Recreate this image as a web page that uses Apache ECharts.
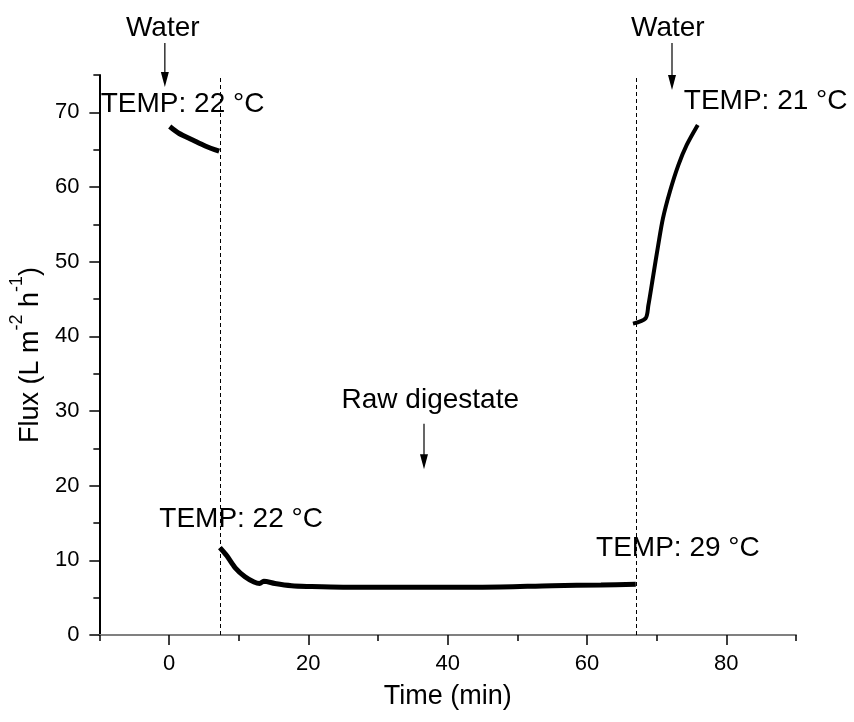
<!DOCTYPE html>
<html lang="en" style="height: 100%">
<head>
  <meta charset="utf-8">
</head>
<body style="height: 100%; margin: 0; background: #fff">
  <div id="container" style="width: 854px; height: 722px"></div>
  <script src="https://cdn.jsdelivr.net/npm/echarts@6/dist/echarts.min.js"></script>
  <script type="text/javascript">
    // flux readings, [time (min), flux]
    var waterStart = [[0.1, 68.1], [1.4, 67.2], [3.4, 66.3], [5.2, 65.5], [7.2, 64.8]];
    var rawDigestate = [
      [7.3, 11.7], [8.3, 10.6], [9.5, 9.0], [10.9, 7.8], [12.2, 7.1], [13.0, 6.9],
      [13.6, 7.2], [15.2, 6.9], [17.6, 6.6], [20, 6.5], [25, 6.4], [35, 6.4],
      [45, 6.4], [55, 6.6], [62, 6.7], [67, 6.8]
    ];
    var waterEnd = [
      [66.6, 41.7], [68.4, 42.4], [68.8, 44.1], [69.5, 48.1], [70.2, 52.1],
      [70.9, 55.8], [71.9, 59.4], [73.1, 62.9], [74.3, 65.6], [75.9, 68.3]
    ];
    var switchTimes = [7.3, 67];
    var xLabels = [0, 20, 40, 60, 80];
    var xMinor = [-10, 10, 30, 50, 70, 90];
    var yLabels = [0, 10, 20, 30, 40, 50, 60, 70];
    var yMinor = [5, 15, 25, 35, 45, 55, 65, 75];

    // annotations: text, [time, flux], align
    var notes = [
      ['Water', [-0.9, 81.2], 'center'],
      ['Water', [71.6, 81.2], 'center'],
      ['TEMP: 22 °C', [-9.8, 71.1], 'left'],
      ['TEMP: 21 °C', [73.9, 71.5], 'left'],
      ['Raw digestate', [37.5, 31.5], 'center'],
      ['TEMP: 22 °C', [-1.4, 15.5], 'left'],
      ['TEMP: 29 °C', [61.3, 11.6], 'left']
    ];
    // arrows: [time, flux from, flux to]
    var arrows = [[-0.6, 79.3, 73.4], [72.2, 79.3, 73.0], [36.6, 28.3, 22.2]];

    var font = '"Liberation Sans", Arial, sans-serif';
    var chart = echarts.init(document.getElementById('container'), null, { renderer: 'canvas' });

    var lineStyle = function (w) {
      return { type: 'line', smooth: 0.3, showSymbol: false, xAxisIndex: 0, yAxisIndex: 0,
        lineStyle: { color: '#000', width: w }, itemStyle: { color: '#000' } };
    };

    var s1 = lineStyle(5); s1.data = waterStart;
    var s2 = lineStyle(5); s2.data = rawDigestate;
    var s3 = lineStyle(4); s3.data = waterEnd;
    s2.markLine = {
      silent: true,
      symbol: 'none',
      label: { show: false },
      lineStyle: { color: '#000', type: [4, 3], width: 1 },
      data: switchTimes.map(function (t) { return { xAxis: t }; })
    };

    var option = {
      animation: false,
      backgroundColor: '#fff',
      grid: { left: 96, top: 75, width: 700, height: 560 },
      xAxis: [{
        type: 'value', min: -10, max: 90,
        name: 'Time (min)', nameLocation: 'middle', nameGap: 48,
        nameTextStyle: { color: '#000', fontSize: 27, fontFamily: font },
        axisLine: { onZero: false, lineStyle: { color: '#808080', width: 2 } },
        axisTick: { show: true, inside: false, length: 10, customValues: xLabels, lineStyle: { color: '#000', width: 1.5 } },
        axisLabel: { customValues: xLabels, margin: 18, color: '#000', fontSize: 22, fontFamily: font },
        splitLine: { show: false }
      }, {
        type: 'value', min: -10, max: 90, position: 'bottom',
        axisLine: { show: false, onZero: false },
        axisTick: { show: true, length: 6, customValues: xMinor, lineStyle: { color: '#000', width: 1.5 } },
        axisLabel: { show: false },
        splitLine: { show: false }
      }],
      yAxis: [{
        type: 'value', min: 0, max: 75,
        name: '{n|Flux (L m}{s|-2}{n| h}{s|-1}{n|)}', nameLocation: 'middle', nameGap: 54,
        nameTextStyle: {
          color: '#000', fontFamily: font,
          rich: {
            n: { fontSize: 27, fontFamily: font, color: '#000', verticalAlign: 'bottom', lineHeight: 36 },
            s: { fontSize: 18, fontFamily: font, color: '#000', verticalAlign: 'top', lineHeight: 36 }
          }
        },
        axisLine: { show: true, onZero: false, lineStyle: { color: '#000', width: 2 } },
        axisTick: { show: true, length: 10, customValues: yLabels, lineStyle: { color: '#000', width: 1.5 } },
        axisLabel: { customValues: yLabels, margin: 20, color: '#000', fontSize: 22, fontFamily: font },
        splitLine: { show: false }
      }, {
        type: 'value', min: 0, max: 75, position: 'left',
        axisLine: { show: false, onZero: false },
        axisTick: { show: true, length: 6, customValues: yMinor, lineStyle: { color: '#000', width: 1.5 } },
        axisLabel: { show: false },
        splitLine: { show: false }
      }],
      series: [s1, s2, s3]
    };

    chart.setOption(option);

    // text notes and arrows placed through the axes
    var toPx = function (p) { return chart.convertToPixel({ xAxisIndex: 0, yAxisIndex: 0 }, p); };
    var graphics = [];
    notes.forEach(function (n) {
      var p = toPx(n[1]);
      graphics.push({
        type: 'text', x: p[0], y: p[1], silent: true,
        style: { text: n[0], fill: '#000', font: '28px ' + font, align: n[2], verticalAlign: 'middle' }
      });
    });
    arrows.forEach(function (a) {
      var p1 = toPx([a[0], a[1]]);
      var p2 = toPx([a[0], a[2]]);
      graphics.push({
        type: 'line', silent: true,
        shape: { x1: p1[0], y1: p1[1], x2: p2[0], y2: p2[1] - 10 },
        style: { stroke: '#000', lineWidth: 1.2 }
      });
      graphics.push({
        type: 'polygon', silent: true,
        shape: { points: [[p2[0] - 4, p2[1] - 15], [p2[0] + 4, p2[1] - 15], [p2[0], p2[1]]] },
        style: { fill: '#000' }
      });
    });
    chart.setOption({ graphic: graphics });
  </script>
</body>
</html>
